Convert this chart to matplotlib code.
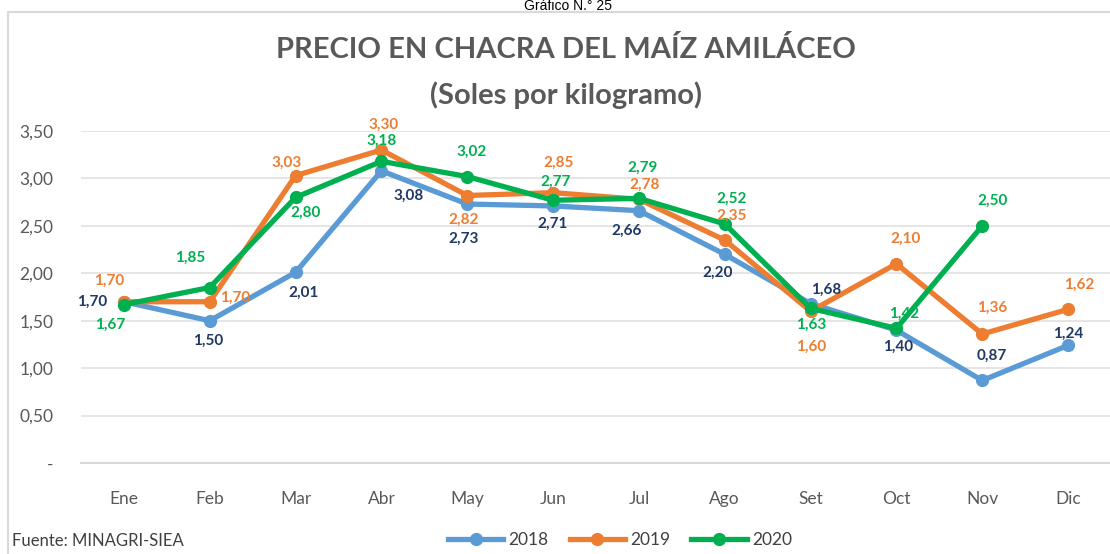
import matplotlib.pyplot as plt
from matplotlib.patches import Rectangle

plt.rcParams['font.family'] = ['Lato', 'DejaVu Sans']

meses = ['Ene', 'Feb', 'Mar', 'Abr', 'May', 'Jun', 'Jul', 'Ago', 'Set', 'Oct', 'Nov', 'Dic']
p2018 = [1.70, 1.50, 2.01, 3.08, 2.73, 2.71, 2.66, 2.20, 1.68, 1.40, 0.87, 1.24]
p2019 = [1.70, 1.70, 3.03, 3.30, 2.82, 2.85, 2.78, 2.35, 1.60, 2.10, 1.36, 1.62]
p2020 = [1.67, 1.85, 2.80, 3.18, 3.02, 2.77, 2.79, 2.52, 1.63, 1.42, 2.50]
yticks = [0, 0.5, 1.0, 1.5, 2.0, 2.5, 3.0, 3.5]

# label offsets in pixels (dx, dy down-positive)
off2018 = [(-32, 0), (-2, 20), (8, 20), (27, 25), (-4, 35), (-1, 18), (-12, 20),
           (-7, 18), (16, -14), (2, 17), (10, -25), (0, -12)]
off2019 = [(-15, -21), (25, -4), (-9, -13), (2, -25), (-4, 24), (5, -30), (6, -15),
           (7, -24), (1, 36), (9, -25), (10, -26), (11, -25)]
off2020 = [(-14, 20), (-20, -30), (10, 15), (0, -21), (4, -25), (2, -18), (4, -31),
           (7, -25), (1, 16), (8, -15), (10, -25)]

series = [
    ('2018', p2018, off2018, '#5b9bd5', '#1f3864'),
    ('2019', p2019, off2019, '#ed7d31', '#ed7d31'),
    ('2020', p2020, off2020, '#00b050', '#00b050'),
]

fig = plt.figure(figsize=(11.1, 5.54), dpi=100)
ax = fig.add_axes([81 / 1110, 1 - 463 / 554, 1030 / 1110, 332 / 554])

# outer chart border
fig.patches.append(Rectangle((8 / 1110, -0.1), 1.2, 1 - 12 / 554 + 0.1,
                             transform=fig.transFigure, fill=False,
                             edgecolor='#d9d9d9', linewidth=1.5))

x = list(range(len(meses)))
for name, vals, offs, col, lcol in series:
    ax.plot(x[:len(vals)], vals, color=col, linewidth=3.8, marker='o',
            markersize=8.5, label=name, solid_joinstyle='round')
    for xi, v, (dx, dy) in zip(x, vals, offs):
        ax.annotate(f'{v:.2f}'.replace('.', ','), (xi, v),
                    xytext=(dx * 0.72, -dy * 0.72), textcoords='offset points',
                    ha='center', va='center', fontsize=11, fontweight='bold',
                    color=lcol)

ax.set_xlim(-0.5, 11.5)
ax.set_ylim(0, 3.5)
ax.set_yticks(yticks)
ax.set_yticklabels(['-' if t == 0 else f'{t:.2f}'.replace('.', ',') for t in yticks])
ax.set_xticks(x)
ax.set_xticklabels(meses)
ax.tick_params(axis='both', length=0, labelsize=12.5, colors='#595959')
ax.tick_params(axis='y', pad=20)
ax.tick_params(axis='x', pad=20)
ax.grid(axis='y', color='#e0e0e0', linewidth=1.2)
ax.set_axisbelow(True)
for s in ['top', 'right', 'left']:
    ax.spines[s].set_visible(False)
ax.spines['bottom'].set_color('#d9d9d9')
ax.spines['bottom'].set_linewidth(1.5)

fig.text(566 / 1110, 1 - 50 / 554, 'PRECIO EN CHACRA DEL MAÍZ AMILÁCEO',
         ha='center', va='center', fontsize=21, fontweight='bold', color='#595959')
fig.text(566 / 1110, 1 - 95 / 554, '(Soles por kilogramo)',
         ha='center', va='center', fontsize=21, fontweight='bold', color='#595959')
fig.text(568 / 1110, 1 - 10 / 554, 'Gráfico N.° 25', ha='center', va='baseline',
         fontsize=10, color='black', family=['Liberation Sans', 'DejaVu Sans'])

fig.text(12 / 1110, 1 - 541 / 554, 'Fuente: MINAGRI-SIEA', ha='left', va='center',
         fontsize=12, color='#404040')
fig.legend(loc='center', bbox_to_anchor=(620 / 1110, 1 - 540 / 554), ncol=3,
           frameon=False, fontsize=12.5, handlelength=3.2, columnspacing=1.2,
           handletextpad=0.3, labelcolor='#404040')

fig.savefig('out.png', dpi=100)
